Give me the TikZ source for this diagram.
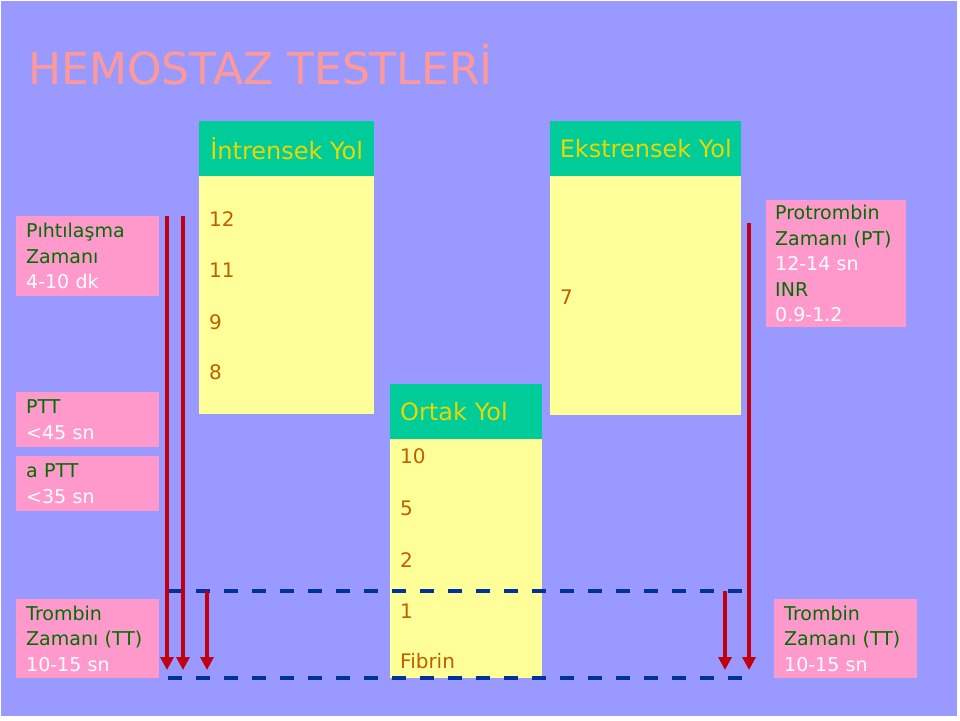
\documentclass[tikz,border=0pt]{standalone}
\usepackage{fontspec}
\setmainfont{DejaVu Sans}
\usetikzlibrary{arrows.meta}

\definecolor{slidebg}{RGB}{153,153,255}
\definecolor{headgreen}{RGB}{0,204,153}
\definecolor{headyellow}{RGB}{232,216,0}
\definecolor{bodyyellow}{RGB}{255,255,153}
\definecolor{testpink}{RGB}{255,153,204}
\definecolor{titlepink}{RGB}{255,153,153}
\definecolor{numbrown}{RGB}{190,95,0}
\definecolor{testgreen}{RGB}{0,110,0}
\definecolor{arrowred}{RGB}{192,0,16}
\definecolor{dashblue}{RGB}{0,51,153}

\begin{document}
\begin{tikzpicture}[x=1pt, y=-1pt,
  head/.style={fill=headgreen, text=headyellow, anchor=north west, minimum width=#1, minimum height=55pt, inner sep=0pt, font=\fontsize{24}{28}\selectfont},
  body/.style={fill=bodyyellow, anchor=north west, inner sep=0pt},
  factor/.style={anchor=west, inner sep=0pt, text=numbrown, font=\fontsize{20}{24}\selectfont},
  testbox/.style={fill=testpink, anchor=north west, inner xsep=10pt, inner ysep=0pt, text width=123pt, align=left, text=testgreen, font=\fontsize{19}{25.5}\selectfont},
  redarrow/.style={draw=arrowred, line width=4.5pt, -{Triangle[width=13pt,length=13pt]}},
  bluedash/.style={draw=dashblue, line width=4.5pt, dash pattern=on 14pt off 14pt}]
\useasboundingbox (0,0) rectangle (960,720);
\fill[white] (0,0) rectangle (960,720);
\fill[slidebg] (1,1) rectangle (957,716);

% title
\node[anchor=west, inner sep=0pt, text=titlepink, font=\fontsize{44}{50}\selectfont] (title) at (28,65) {HEMOSTAZ TESTLERİ};

% pathways
\node[head=175pt] (intHead) at (199,121) {İntrensek Yol};
\node[body, minimum width=175pt, minimum height=238pt] (intBody) at (199,176) {};
\node[head=191pt] (extHead) at (550,121) {Ekstrensek Yol};
\node[body, minimum width=191pt, minimum height=239pt] (extBody) at (550,176) {};
\node[head=152pt, text width=132pt, inner xsep=10pt, align=left] (comHead) at (390,384) {Ortak Yol};
\node[body, minimum width=152pt, minimum height=239pt] (comBody) at (390,439) {};

% factors
\node[factor] (f12) at (209,219) {12};
\node[factor] (f11) at (209,270) {11};
\node[factor] (f9) at (209,322) {9};
\node[factor] (f8) at (209,372) {8};
\node[factor] (f7) at (560,297) {7};
\node[factor] (f10) at (400,456) {10};
\node[factor] (f5) at (400,508) {5};
\node[factor] (f2) at (400,560) {2};
\node[factor] (f1) at (400,611) {1};
\node[factor] (fib) at (400,661) {Fibrin};

% tests
\node[testbox, minimum height=80pt] (pihti) at (16,216) {Pıhtılaşma\\Zamanı\\\textcolor{white}{4-10 dk}};
\node[testbox, minimum height=55pt] (ptt) at (16,392) {PTT\\\textcolor{white}{<45 sn}};
\node[testbox, minimum height=55pt] (aptt) at (16,456) {a PTT\\\textcolor{white}{<35 sn}};
\node[testbox, minimum height=79pt] (ttLeft) at (16,599) {Trombin\\Zamanı (TT)\\\textcolor{white}{10-15 sn}};
\node[testbox, text width=122pt, inner xsep=9pt, minimum height=127pt] (pt) at (766,200) {Protrombin\\Zamanı (PT)\\\textcolor{white}{12-14 sn}\\INR\\\textcolor{white}{0.9-1.2}};
\node[testbox, minimum height=79pt] (ttRight) at (774,599) {Trombin\\Zamanı (TT)\\\textcolor{white}{10-15 sn}};

% dashed bands
\coordinate (band1w) at (168,591);
\coordinate (band1e) at (742,591);
\coordinate (band2w) at (168,678);
\coordinate (band2e) at (742,678);
\draw[bluedash] (band1w) -- (band1e);
\draw[bluedash] (band2w) -- (band2e);

% arrows
\coordinate (a1s) at (167,216);
\coordinate (a1e) at (167,670);
\coordinate (a2s) at (183,216);
\coordinate (a2e) at (183,670);
\coordinate (a3s) at (207,591);
\coordinate (a3e) at (207,670);
\coordinate (a4s) at (725,591);
\coordinate (a4e) at (725,670);
\coordinate (a5s) at (749,223);
\coordinate (a5e) at (749,670);
\draw[redarrow] (a1s) -- (a1e);
\draw[redarrow] (a2s) -- (a2e);
\draw[redarrow] (a3s) -- (a3e);
\draw[redarrow] (a4s) -- (a4e);
\draw[redarrow] (a5s) -- (a5e);
\end{tikzpicture}
\end{document}
